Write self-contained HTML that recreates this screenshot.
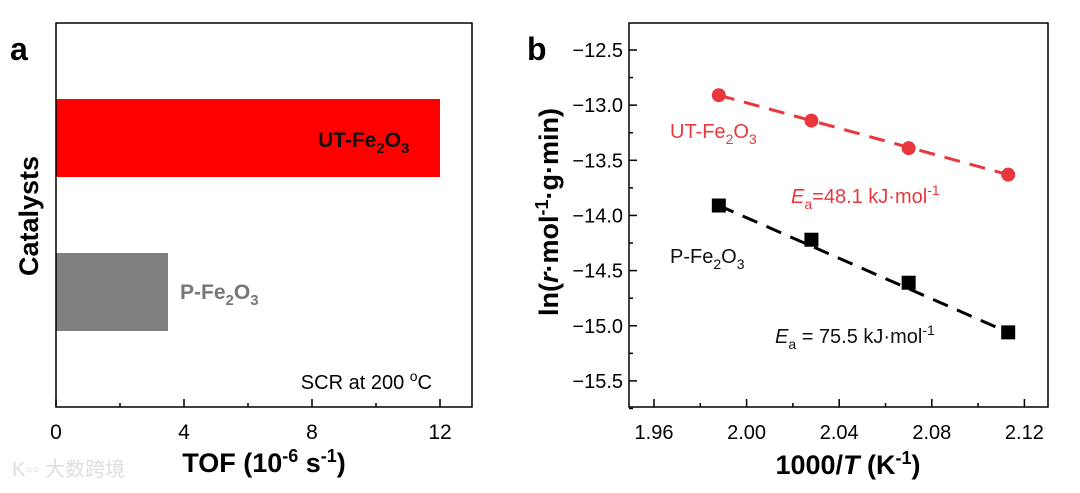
<!DOCTYPE html>
<html><head><meta charset="utf-8"><style>
body{margin:0;background:#fff;width:1080px;height:488px;overflow:hidden}
svg{font-family:"Liberation Sans","Noto Sans CJK SC",sans-serif}
</style></head><body>
<svg id="c" width="1080" height="488">
<text x="10" y="60" font-size="32" font-weight="bold">a</text>
<text x="527" y="60" font-size="32" font-weight="bold">b</text>
<g id="pa"></g><g id="pb"></g>
<text x="12" y="476" font-size="20" fill="#ddd">K◦◦ 大数跨境</text>
</svg>
<script>
const ns="http://www.w3.org/2000/svg";
function mk(p,tag,at,txt){const e=document.createElementNS(ns,tag);for(const k in at)e.setAttribute(k,at[k]);if(txt!=null)e.textContent=txt;p.appendChild(e);return e;}
// Panel a data
const barCats=["UT-Fe2O3","P-Fe2O3"];
const barVals=[12.0,3.5];
const aTicks=[0,4,8,12];
// Panel b data
const xsT=[1.988,2.028,2.070,2.113];
const utVals=[-12.91,-13.14,-13.39,-13.63];
const pVals=[-13.91,-14.22,-14.61,-15.06];
const bXTicks=[1.96,2.00,2.04,2.08,2.12];
const bYTicks=[-12.5,-13.0,-13.5,-14.0,-14.5,-15.0,-15.5];

// ---- panel a
const A=document.getElementById('pa');
const ax=v=>56+v*32;
const bandY=[99,253],bandH=78;
barVals.forEach((v,i)=>{
 const r=mk(A,'rect',{x:ax(0),y:bandY[i],width:ax(v)-ax(0),height:bandH,fill:i==0?'#ff0000':'#808080'});
 
 
});
let t=mk(A,'text',{x:ax(barVals[0])-122,y:147,'font-size':21,'font-weight':'bold',fill:'#111'});
t.innerHTML='UT-Fe<tspan font-size="15" dy="6">2</tspan><tspan dy="-6">O</tspan><tspan font-size="15" dy="6">3</tspan>';

t=mk(A,'text',{x:ax(barVals[1])+12,y:299,'font-size':21,'font-weight':'bold',fill:'#777'});
t.innerHTML='P-Fe<tspan font-size="15" dy="6">2</tspan><tspan dy="-6">O</tspan><tspan font-size="15" dy="6">3</tspan>';

mk(A,'rect',{x:56,y:23,width:416,height:384,fill:'none',stroke:'#000','stroke-width':1.5});
for(let v=0;v<=13;v+=2){mk(A,'line',{x1:ax(v),x2:ax(v),y1:407,y2:v%4==0?399:403,stroke:'#000','stroke-width':1.5});}
aTicks.forEach(v=>{const e=mk(A,'text',{x:ax(v),y:439,'font-size':21,'text-anchor':'middle'},v);});
t=mk(A,'text',{x:432,y:389,'font-size':20,'text-anchor':'end'});
t.innerHTML='SCR at 200 <tspan font-size="14" dy="-8">o</tspan><tspan dy="8">C</tspan>';

t=mk(A,'text',{x:264,y:472,'font-size':27,'font-weight':'bold','text-anchor':'middle'});
t.innerHTML='TOF (10<tspan font-size="18" dy="-10">-6</tspan><tspan dy="10"> s</tspan><tspan font-size="18" dy="-10">-1</tspan><tspan dy="10">)</tspan>';

t=mk(A,'text',{x:0,y:0,'font-size':27,'font-weight':'bold','text-anchor':'middle',transform:'translate(38,216) rotate(-90)'},'Catalysts');


// ---- panel b
const B=document.getElementById('pb');
const bx=v=>654+(v-1.96)*2315;
const by=v=>50+(-12.5-v)*110.3;
mk(B,'rect',{x:629,y:23,width:419,height:384,fill:'none',stroke:'#000','stroke-width':1.5});
for(let i=0;i<=8;i++){const v=1.96+i*0.02;mk(B,'line',{x1:bx(v),x2:bx(v),y1:407,y2:i%2==0?399:403,stroke:'#000','stroke-width':1.5});}
for(let i=0;i<=13;i++){const v=-12.5-i*0.25;mk(B,'line',{x1:629,x2:i%2==0?637:633,y1:by(v),y2:by(v),stroke:'#000','stroke-width':1.5});}
bXTicks.forEach(v=>{const e=mk(B,'text',{x:bx(v),y:439,'font-size':20,'text-anchor':'middle'},v.toFixed(2));});
bYTicks.forEach(v=>{const e=mk(B,'text',{x:623,y:by(v)+7,'font-size':20,'text-anchor':'end'},'\u2212'+Math.abs(v).toFixed(1));});
function series(vals,col,sq,name){
 const l=mk(B,'line',{x1:bx(xsT[0]),y1:by(vals[0]),x2:bx(xsT[3]),y2:by(vals[3]),stroke:col,'stroke-width':3,'stroke-dasharray':'16,10'});
 
 vals.forEach((v,i)=>{
  const e=sq?mk(B,'rect',{x:bx(xsT[i])-7,y:by(v)-7,width:14,height:14,fill:col}):mk(B,'circle',{cx:bx(xsT[i]),cy:by(v),r:7,fill:col});
  
 });
}
series(utVals,'#e8383d',false,'ut-fe2o3');
series(pVals,'#000',true,'p-fe2o3');
t=mk(B,'text',{x:670,y:138,'font-size':20,fill:'#e8383d'});
t.innerHTML='UT-Fe<tspan font-size="14" dy="6">2</tspan><tspan dy="-6">O</tspan><tspan font-size="14" dy="6">3</tspan>';

t=mk(B,'text',{x:791,y:203,'font-size':20,fill:'#e8383d'});
t.innerHTML='<tspan font-style="italic">E</tspan><tspan font-size="14" dy="6">a</tspan><tspan dy="-6">=48.1 kJ·mol</tspan><tspan font-size="14" dy="-8">-1</tspan>';

t=mk(B,'text',{x:670,y:263,'font-size':20,fill:'#111'});
t.innerHTML='P-Fe<tspan font-size="14" dy="6">2</tspan><tspan dy="-6">O</tspan><tspan font-size="14" dy="6">3</tspan>';

t=mk(B,'text',{x:775,y:343,'font-size':20,fill:'#111'});
t.innerHTML='<tspan font-style="italic">E</tspan><tspan font-size="14" dy="6">a</tspan><tspan dy="-6"> = 75.5 kJ·mol</tspan><tspan font-size="14" dy="-8">-1</tspan>';

t=mk(B,'text',{x:848,y:474,'font-size':27,'font-weight':'bold','text-anchor':'middle'});
t.innerHTML='1000/<tspan font-style="italic">T</tspan> (K<tspan font-size="18" dy="-10">-1</tspan><tspan dy="10">)</tspan>';

t=mk(B,'text',{x:0,y:0,'font-size':27,'font-weight':'bold','text-anchor':'middle',transform:'translate(558,212) rotate(-90)'});
t.innerHTML='ln(<tspan font-style="italic">r</tspan>·mol<tspan font-size="18" dy="-10">-1</tspan><tspan dy="10">·g·min)</tspan>';

</script>
</body></html>
